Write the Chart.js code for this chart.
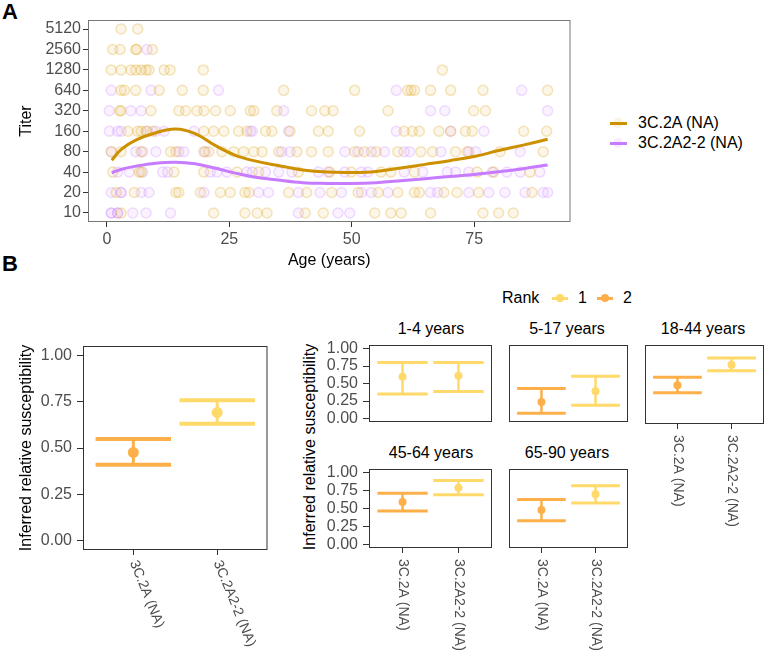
<!DOCTYPE html>
<html>
<head>
<meta charset="utf-8">
<script src="https://cdn.jsdelivr.net/npm/chart.js@4.4.0/dist/chart.umd.min.js"></script>
<style>
body { margin: 0; width: 766px; height: 653px; position: relative; overflow: hidden; background: #fff;
       font-family: 'Liberation Sans', Arial, sans-serif; }
.box { position: absolute; }
.txt { position: absolute; white-space: nowrap; font-size: 16px; line-height: 20px; color: #000; }
.tag { position: absolute; font-weight: bold; font-size: 22px; line-height: 22px; color: #000; }
.key { position: absolute; }
</style>
</head>
<body>
<div class="tag" style="left:2px;top:1px">A</div>
<div class="tag" style="left:2px;top:253px">B</div>

<!-- panel A legend -->
<div class="key" style="left:613px;top:118px;width:10px;height:10px;border-radius:50%;background:rgba(225,175,40,0.15)"></div>
<div class="key" style="left:610px;top:121.5px;width:17px;height:3px;background:#CD9100"></div>
<div class="txt" style="left:638px;top:113px">3C.2A (NA)</div>
<div class="key" style="left:613px;top:138px;width:10px;height:10px;border-radius:50%;background:rgba(199,124,255,0.15)"></div>
<div class="key" style="left:610px;top:141.5px;width:17px;height:3px;background:#C77CFF"></div>
<div class="txt" style="left:638px;top:133px">3C.2A2-2 (NA)</div>

<!-- panel B legend -->
<div class="txt" style="left:502px;top:288px">Rank</div>
<div class="key" style="left:552px;top:297px;width:16px;height:2.5px;background:#FFD96A"></div>
<div class="key" style="left:556px;top:294px;width:8px;height:8px;border-radius:50%;background:#FFD96A"></div>
<div class="txt" style="left:578px;top:288px">1</div>
<div class="key" style="left:597px;top:297px;width:16px;height:2.5px;background:#FDB04A"></div>
<div class="key" style="left:601px;top:294px;width:8px;height:8px;border-radius:50%;background:#FDB04A"></div>
<div class="txt" style="left:623px;top:288px">2</div>

<!-- facet strips and shared axis title -->
<div class="txt" style="left:431px;top:319px;transform:translateX(-50%)">1-4 years</div>
<div class="txt" style="left:567px;top:319px;transform:translateX(-50%)">5-17 years</div>
<div class="txt" style="left:703px;top:319px;transform:translateX(-50%)">18-44 years</div>
<div class="txt" style="left:431px;top:443px;transform:translateX(-50%)">45-64 years</div>
<div class="txt" style="left:567px;top:443px;transform:translateX(-50%)">65-90 years</div>
<div class="txt" style="left:310px;top:447px;transform:translate(-50%,-50%) rotate(-90deg)">Inferred relative susceptibility</div>

<script>
// ---- panel A data ----
const titerLevels = [10, 20, 40, 80, 160, 320, 640, 1280, 2560, 5120];
const ageTicks = [0, 25, 50, 75];

// ages of the observations at each titer level (same order as titerLevels)
const ages2A = [
  [2.9, 21.8, 28.2, 30.7, 32.7, 40.5, 44.2, 54.7, 58.0, 60.1, 66.1, 76.8, 80.0, 83.0],
  [1.9, 5.6, 14.1, 14.7, 19.1, 23.2, 25.2, 28.2, 29.0, 37.1, 40.8, 45.9, 51.3, 55.4, 59.4, 62.8, 63.8, 68.8, 71.5, 75.9, 86.8],
  [1.2, 6.6, 7.0, 13.7, 19.8, 26.6, 31.0, 39.1, 45.5, 49.9, 56.0, 58.0, 62.8, 75.6, 79.0, 86.4],
  [0.9, 2.9, 7.0, 13.0, 14.1, 19.8, 20.8, 23.5, 25.9, 27.9, 30.0, 31.7, 35.1, 38.8, 41.8, 45.2, 50.6, 52.6, 55.0, 59.4, 64.1, 66.5, 71.2, 73.6, 80.3, 89.1],
  [4.3, 6.3, 7.0, 8.0, 9.4, 19.8, 21.8, 23.9, 26.9, 28.6, 32.4, 33.7, 37.4, 43.2, 45.2, 51.6, 60.7, 62.4, 63.8, 67.8, 70.2, 73.2, 74.6, 85.1, 89.8],
  [2.6, 2.9, 9.0, 14.7, 16.1, 18.4, 19.8, 22.2, 25.2, 29.3, 30.0, 34.7, 41.8, 44.5, 46.2, 57.4, 74.9, 77.3],
  [2.9, 3.6, 5.9, 10.7, 15.4, 19.7, 36.1, 50.6, 61.4, 62.1, 62.8, 66.1, 70.2, 76.8, 90.0],
  [0.9, 2.9, 4.9, 5.9, 7.0, 8.0, 8.6, 11.7, 12.9, 19.7, 68.5],
  [1.2, 2.7, 5.9, 6.1, 9.3],
  [2.9, 6.3]
];
const ages2A2 = [
  [0.9, 0.9, 2.2, 2.2, 5.3, 8.0, 13.0, 39.1, 47.2, 49.6],
  [0.9, 2.9, 2.9, 7.0, 8.6, 19.8, 31.0, 33.0, 39.1, 43.5, 47.9, 52.0, 54.0, 57.4, 66.1, 67.5, 73.9, 78.0, 81.3, 85.4, 89.1, 90.0],
  [2.2, 4.6, 7.3, 11.4, 12.4, 21.1, 22.5, 24.5, 28.6, 29.7, 32.4, 35.1, 37.8, 43.2, 45.2, 48.6, 52.0, 53.3, 60.7, 64.5, 69.5, 71.2, 73.9, 78.7, 81.7, 84.4, 88.4],
  [0.9, 5.9, 7.3, 10.0, 14.7, 15.7, 20.1, 35.7, 37.4, 48.6, 51.3, 54.0, 56.7, 60.7, 61.8, 68.2, 73.9, 75.3, 84.4],
  [0.5, 2.2, 2.9, 8.3, 10.0, 11.7, 17.8, 29.3, 29.7, 37.1, 59.1, 70.2, 77.0],
  [0.5, 4.9, 7.0, 36.1, 66.1, 69.0, 90.0],
  [0.9, 9.0, 22.8, 59.1, 84.7],
  [],
  [8.2],
  []
];

// smooth fits
const curveAge = [1, 3, 6, 10, 14, 18, 22, 26, 30, 35, 40, 45, 50, 55, 60, 65, 70, 75, 80, 85, 90];
const curve2A  = [60, 87, 119, 152, 172, 148, 100, 72, 59, 50, 43, 40, 39.5, 41, 46, 52, 59, 68, 83, 100, 122];
const curve2A2 = [39, 44, 49, 54, 56, 53, 46, 39, 34, 30.5, 28, 27.3, 27.2, 28, 29.8, 32, 34.5, 37, 40.5, 45, 51];

// ---- panel B data ----
const strains = ['3C.2A (NA)', '3C.2A2-2 (NA)'];
const rankColors = ['#FFD96A', '#FDB04A'];
const yTicksB = [0, 0.25, 0.5, 0.75, 1];

const allMid = [0.476, 0.692];
const allLo = [0.41, 0.631];
const allHi = [0.549, 0.757];
const allRank = [2, 1];

const ageGroups = ['1-4 years', '5-17 years', '18-44 years', '45-64 years', '65-90 years'];
const grpMid = [[0.595, 0.61], [0.235, 0.39], [0.49, 0.775], [0.59, 0.79], [0.48, 0.70]];
const grpLo = [[0.35, 0.385], [0.075, 0.19], [0.385, 0.69], [0.465, 0.69], [0.33, 0.577]];
const grpHi = [[0.80, 0.80], [0.43, 0.605], [0.60, 0.87], [0.713, 0.89], [0.624, 0.817]];
const grpRank = [[1, 1], [2, 1], [2, 1], [2, 1], [2, 1]];

Chart.defaults.font.family = "'Liberation Sans', Arial, sans-serif";
Chart.defaults.font.size = 16;
Chart.defaults.color = '#4D4D4D';

// fixed axis sizes so every plot area lands where it should
function fixY(w) {
  return s => { s.width = w; s.paddingTop = 0; s.paddingBottom = 0; s.paddingLeft = 0; s.paddingRight = 0; };
}
function fixX(h) {
  return s => { s.height = h; s.paddingTop = 0; s.paddingBottom = 0; s.paddingLeft = 0; s.paddingRight = 0; };
}

const frame = {
  id: 'frame',
  afterDatasetsDraw(chart, args, opts) {
    const a = chart.chartArea, ctx = chart.ctx;
    ctx.save();
    ctx.strokeStyle = opts.color;
    ctx.lineWidth = 1;
    ctx.strokeRect(a.left + 0.5, a.top + 0.5, a.right - a.left - 1, a.bottom - a.top - 1);
    ctx.restore();
  }
};

const errbars = {
  id: 'errbars',
  beforeDatasetsDraw(chart, args, opts) {
    const xs = chart.scales.x, ys = chart.scales.y, ctx = chart.ctx;
    ctx.save();
    chart.data.datasets.forEach(ds => {
      if (!ds.lo) return;
      ctx.strokeStyle = ds.borderColor;
      ds.data.forEach((p, i) => {
        const x0 = xs.getPixelForValue(p.x - 0.45), x1 = xs.getPixelForValue(p.x + 0.45);
        const xc = xs.getPixelForValue(p.x);
        const yl = ys.getPixelForValue(ds.lo[i]), yh = ys.getPixelForValue(ds.hi[i]);
        ctx.lineWidth = opts.cap;
        ctx.beginPath();
        ctx.moveTo(x0, yl); ctx.lineTo(x1, yl);
        ctx.moveTo(x0, yh); ctx.lineTo(x1, yh);
        ctx.stroke();
        ctx.lineWidth = opts.stem;
        ctx.beginPath();
        ctx.moveTo(xc, yl); ctx.lineTo(xc, yh);
        ctx.stroke();
      });
    });
    ctx.restore();
  }
};

// strain names under the ticks, turned clockwise
const rotLabels = {
  id: 'rotLabels',
  afterDraw(chart, args, opts) {
    if (!opts.show) return;
    const xs = chart.scales.x, ctx = chart.ctx, a = chart.chartArea;
    ctx.save();
    ctx.font = "14px 'Liberation Sans', Arial, sans-serif";
    ctx.fillStyle = '#4D4D4D';
    ctx.textAlign = 'left';
    ctx.textBaseline = 'middle';
    strains.forEach((t, i) => {
      ctx.save();
      ctx.translate(xs.getPixelForValue(i + 1), a.bottom + opts.gap);
      ctx.rotate(opts.angle * Math.PI / 180);
      ctx.fillText(t, 0, 0);
      ctx.restore();
    });
    ctx.restore();
  }
};

const PT = 12, PR = 3;
function panel(L, T, W, H, axL, axB, cfg) {
  const d = document.createElement('div');
  d.className = 'box';
  d.style.left = (L - axL) + 'px';
  d.style.top = (T - PT) + 'px';
  d.style.width = (axL + W + PR) + 'px';
  d.style.height = (PT + H + axB) + 'px';
  const c = document.createElement('canvas');
  d.appendChild(c);
  document.body.appendChild(d);
  cfg.options.responsive = true;
  cfg.options.maintainAspectRatio = false;
  cfg.options.animation = false;
  cfg.options.layout = { padding: { top: PT, right: PR, left: 0, bottom: 0 } };
  return new Chart(c, cfg);
}

function pointsOf(agesByLevel) {
  const out = [];
  agesByLevel.forEach((ages, k) => ages.forEach(a => out.push({ x: a, y: titerLevels[k] })));
  return out;
}

// ---- panel A ----
panel(88, 20, 486, 202, 88, 48, {
  type: 'scatter',
  data: {
    datasets: [
      { data: curveAge.map((a, i) => ({ x: a, y: curve2A[i] })), showLine: true, borderColor: '#CD9100',
        borderWidth: 3, pointRadius: 0, tension: 0.4, order: 0 },
      { data: curveAge.map((a, i) => ({ x: a, y: curve2A2[i] })), showLine: true, borderColor: '#C77CFF',
        borderWidth: 3, pointRadius: 0, tension: 0.4, order: 0 },
      { data: pointsOf(ages2A), pointRadius: 5, borderWidth: 1.5,
        borderColor: 'rgba(222,170,40,0.30)', backgroundColor: 'rgba(222,170,40,0.10)', order: 1 },
      { data: pointsOf(ages2A2), pointRadius: 5, borderWidth: 1.5,
        borderColor: 'rgba(199,124,255,0.25)', backgroundColor: 'rgba(199,124,255,0.09)', order: 1 }
    ]
  },
  options: {
    plugins: { legend: { display: false }, tooltip: { enabled: false }, frame: { color: '#777' } },
    scales: {
      x: {
        type: 'linear', min: -3.85, max: 94.67,
        afterBuildTicks: s => { s.ticks = ageTicks.map(v => ({ value: v })); },
        afterFit: fixX(48),
        ticks: { padding: 3, maxRotation: 0, autoSkip: false },
        grid: { drawOnChartArea: false, tickLength: 5, color: '#333' },
        border: { display: false },
        title: { display: true, text: 'Age (years)', color: '#000', padding: { top: 0, bottom: 0 } }
      },
      y: {
        type: 'logarithmic', min: 7.37, max: 6950,
        afterBuildTicks: s => { s.ticks = titerLevels.map(v => ({ value: v })); },
        afterFit: fixY(88),
        ticks: { padding: 2, autoSkip: false, callback: v => String(v) },
        grid: { drawOnChartArea: false, tickLength: 5, color: '#333' },
        border: { display: false },
        title: { display: true, text: 'Titer', color: '#000', padding: { top: 17, bottom: 0 } }
      }
    }
  },
  plugins: [frame]
});

// ---- panel B ----
function errChart(L, T, W, H, axL, axB, mid, lo, hi, rank, o) {
  return panel(L, T, W, H, axL, axB, {
    type: 'scatter',
    data: {
      datasets: strains.map((s, j) => ({
        data: [{ x: j + 1, y: mid[j] }], lo: [lo[j]], hi: [hi[j]],
        pointRadius: o.r, borderWidth: 0,
        backgroundColor: rankColors[rank[j] - 1], borderColor: rankColors[rank[j] - 1]
      }))
    },
    options: {
      plugins: {
        legend: { display: false }, tooltip: { enabled: false },
        frame: { color: '#333' },
        errbars: { cap: o.cap, stem: o.stem },
        rotLabels: { show: o.xLab, angle: o.angle, gap: 11 }
      },
      scales: {
        x: {
          type: 'linear', min: 0.4, max: 2.6,
          afterBuildTicks: s => { s.ticks = strains.map((t, j) => ({ value: j + 1 })); },
          afterFit: fixX(axB),
          ticks: { display: false },
          grid: { drawOnChartArea: false, drawTicks: o.xLab, tickLength: 5, color: '#333' },
          border: { display: false }
        },
        y: {
          type: 'linear', min: -0.05, max: 1.05,
          afterBuildTicks: s => { s.ticks = yTicksB.map(v => ({ value: v })); },
          afterFit: fixY(axL),
          ticks: { display: o.yLab, padding: o.yPad, autoSkip: false, callback: v => v.toFixed(2) },
          grid: { drawOnChartArea: false, drawTicks: o.yLab, tickLength: 6, color: '#333' },
          border: { display: false },
          title: { display: !!o.yTitle, text: o.yTitle || '', color: '#000', padding: { top: 17.4, bottom: 0 } }
        }
      }
    },
    plugins: [frame, errbars, rotLabels]
  });
}

errChart(83, 346, 187, 204, 83, 103, allMid, allLo, allHi, allRank,
  { r: 5.5, cap: 4, stem: 3, xLab: true, yLab: true, yPad: 5, angle: 68, yTitle: 'Inferred relative susceptibility' });

const facetPos = [
  { L: 369, T: 345, axL: 49, axB: 2, xLab: false, yLab: true },
  { L: 505, T: 345, axL: 0, axB: 2, xLab: false, yLab: false },
  { L: 641, T: 345, axL: 0, axB: 112, xLab: true, yLab: false },
  { L: 369, T: 469, axL: 49, axB: 104, xLab: true, yLab: true },
  { L: 505, T: 469, axL: 0, axB: 104, xLab: true, yLab: false }
];
ageGroups.forEach((g, k) => {
  const p = facetPos[k];
  errChart(p.L, p.T, 124, 79, p.axL, p.axB, grpMid[k], grpLo[k], grpHi[k], grpRank[k],
    { r: 4, cap: 3, stem: 2.5, xLab: p.xLab, yLab: p.yLab, yPad: 5, angle: 90 });
});
</script>
</body>
</html>
